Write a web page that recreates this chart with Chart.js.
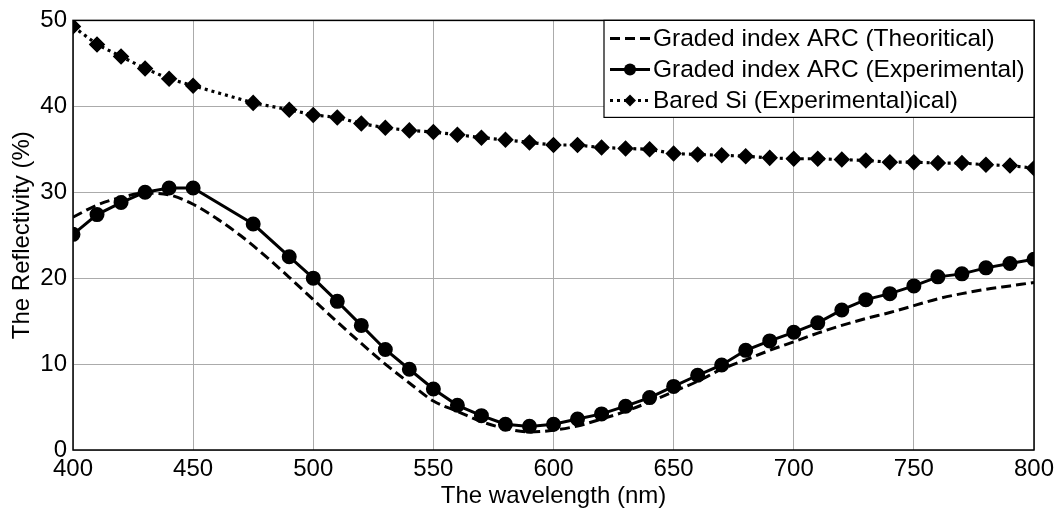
<!DOCTYPE html>
<html>
<head>
<meta charset="utf-8">
<script src="https://cdn.jsdelivr.net/npm/chart.js@4.4.1/dist/chart.umd.min.js"></script>
<style>
  html, body { margin: 0; padding: 0; background: #fff; }
  #wrap { width: 1060px; height: 511px; }
</style>
</head>
<body>
<div id="wrap"><canvas id="reflChart"></canvas></div>
<script>
// Wavelengths (nm) of the measured points
const wavelengthExp = [400, 410, 420, 430, 440, 450, 475, 490, 500, 510, 520, 530, 540, 550, 560, 570, 580, 590, 600,
  610, 620, 630, 640, 650, 660, 670, 680, 690, 700, 710, 720, 730, 740, 750, 760, 770, 780, 790, 800];

// Graded index ARC (Experimental)
const arcExperimental = [25.1, 27.4, 28.8, 30.0, 30.5, 30.5, 26.3, 22.5, 20.0, 17.3, 14.5, 11.7, 9.4, 7.1, 5.2, 4.0, 3.0, 2.75, 3.0,
  3.6, 4.2, 5.1, 6.1, 7.4, 8.7, 9.9, 11.6, 12.7, 13.7, 14.8, 16.3, 17.5, 18.2, 19.1, 20.15, 20.5, 21.2, 21.7, 22.2];

// Bared Si (Experimental)
const bareSi = [49.3, 47.2, 45.8, 44.4, 43.2, 42.4, 40.4, 39.6, 39.0, 38.7, 38.0, 37.5, 37.2, 37.0, 36.7, 36.35, 36.1, 35.8, 35.5,
  35.5, 35.2, 35.1, 35.0, 34.5, 34.4, 34.3, 34.2, 34.0, 33.9, 33.9, 33.8, 33.7, 33.5, 33.5, 33.4, 33.4, 33.2, 33.1, 32.8];

// Graded index ARC (Theoritical), smooth curve
const wavelengthTheo = [400, 410, 420, 430, 440, 450, 460, 470, 480, 490, 500, 510, 520, 530, 540, 550, 560, 570, 580, 590, 600,
  610, 620, 630, 640, 650, 660, 670, 680, 690, 700, 710, 720, 730, 740, 750, 760, 770, 780, 790, 800];
const arcTheoretical = [27.1, 28.5, 29.4, 29.9, 29.7, 28.6, 26.9, 24.9, 22.6, 20.1, 17.5, 14.9, 12.4, 10.0, 7.8, 5.7, 4.5, 3.3, 2.5, 2.1, 2.3,
  2.8, 3.6, 4.5, 5.6, 6.8, 8.0, 9.4, 10.5, 11.6, 12.6, 13.6, 14.5, 15.3, 16.0, 16.8, 17.6, 18.2, 18.7, 19.1, 19.5];

const xTicks = [400, 450, 500, 550, 600, 650, 700, 750, 800];
const yTicks = [0, 10, 20, 30, 40, 50];

const legendLabels = ["Graded index ARC (Theoritical)", "Graded index ARC (Experimental)", "Bared Si (Experimental)ical)"];

const FONT = "Liberation Sans, Arial, sans-serif";

function toPoints(xs, ys) {
  return xs.map((x, i) => ({ x: x, y: ys[i] }));
}

// Frame around the plot + MATLAB-like legend box
const framePlugin = {
  id: "frameLegend",
  afterDraw(chart) {
    const ctx = chart.ctx;
    const a = chart.chartArea;
    ctx.save();
    ctx.strokeStyle = "#000";
    ctx.lineWidth = 1.5;
    ctx.setLineDash([]);
    ctx.strokeRect(a.left, a.top, a.right - a.left, a.bottom - a.top);

    // legend box
    const bx = 604, by = a.top, bw = a.right - 604, bh = 97;
    ctx.fillStyle = "#fff";
    ctx.fillRect(bx, by, bw, bh);
    ctx.lineWidth = 1.2;
    ctx.strokeRect(bx, by, bw, bh);

    const rows = [by + 18, by + 49, by + 80];
    const lx0 = 610, lx1 = 650;
    ctx.font = "24.5px " + FONT;
    ctx.textBaseline = "middle";
    ctx.textAlign = "left";
    rows.forEach((ry, i) => {
      ctx.strokeStyle = "#000";
      ctx.fillStyle = "#000";
      ctx.lineWidth = 3;
      if (i === 0) ctx.setLineDash([10, 5]);
      else if (i === 1) ctx.setLineDash([]);
      else ctx.setLineDash([3, 4]);
      ctx.beginPath();
      ctx.moveTo(lx0, ry);
      ctx.lineTo(lx1, ry);
      ctx.stroke();
      ctx.setLineDash([]);
      const cx = (lx0 + lx1) / 2;
      if (i === 1) {
        ctx.beginPath();
        ctx.arc(cx, ry, 6, 0, Math.PI * 2);
        ctx.fill();
      } else if (i === 2) {
        ctx.beginPath();
        ctx.moveTo(cx, ry - 6);
        ctx.lineTo(cx + 6, ry);
        ctx.lineTo(cx, ry + 6);
        ctx.lineTo(cx - 6, ry);
        ctx.closePath();
        ctx.fill();
      }
      ctx.fillText(legendLabels[i], 653, ry + 1);
    });
    ctx.restore();
  }
};

new Chart(document.getElementById("reflChart"), {
  type: "line",
  data: {
    datasets: [
      {
        label: legendLabels[0],
        data: toPoints(wavelengthTheo, arcTheoretical),
        borderColor: "#000",
        borderWidth: 3,
        borderDash: [10, 5],
        pointRadius: 0,
        cubicInterpolationMode: "monotone",
        fill: false
      },
      {
        label: legendLabels[1],
        data: toPoints(wavelengthExp, arcExperimental),
        borderColor: "#000",
        backgroundColor: "#000",
        borderWidth: 3,
        pointRadius: 6,
        pointStyle: "circle",
        tension: 0,
        fill: false
      },
      {
        label: legendLabels[2],
        data: toPoints(wavelengthExp, bareSi),
        borderColor: "#000",
        backgroundColor: "#000",
        borderWidth: 3.2,
        borderDash: [3, 4],
        pointRadius: 6,
        pointStyle: "rectRot",
        tension: 0,
        fill: false
      }
    ]
  },
  options: {
    responsive: true,
    maintainAspectRatio: false,
    animation: false,
    events: [],
    layout: { padding: { top: 18, right: 26, left: 0, bottom: 0 } },
    plugins: {
      legend: { display: false },
      tooltip: { enabled: false }
    },
    scales: {
      x: {
        type: "linear",
        min: 400,
        max: 800,
        afterBuildTicks: s => { s.ticks = xTicks.map(v => ({ value: v })); },
        afterFit: s => { s.height = 61; },
        ticks: { color: "#000", font: { family: FONT, size: 24 }, padding: 5, maxRotation: 0 },
        grid: { color: "#ababab", lineWidth: 1, drawTicks: false },
        border: { display: false },
        title: { display: true, text: "The wavelength (nm)", color: "#000", font: { family: FONT, size: 24 }, padding: { top: 0, bottom: 0 } }
      },
      y: {
        min: 0,
        max: 50,
        afterBuildTicks: s => { s.ticks = yTicks.map(v => ({ value: v })); },
        afterFit: s => { s.width = 73; },
        ticks: { color: "#000", font: { family: FONT, size: 24 }, padding: 6 },
        grid: { color: "#ababab", lineWidth: 1, drawTicks: false },
        border: { display: false },
        title: { display: true, text: "The Reflectivity (%)", color: "#000", font: { family: FONT, size: 24 }, padding: { top: 8, bottom: 0 } }
      }
    }
  },
  plugins: [framePlugin]
});
</script>
</body>
</html>
